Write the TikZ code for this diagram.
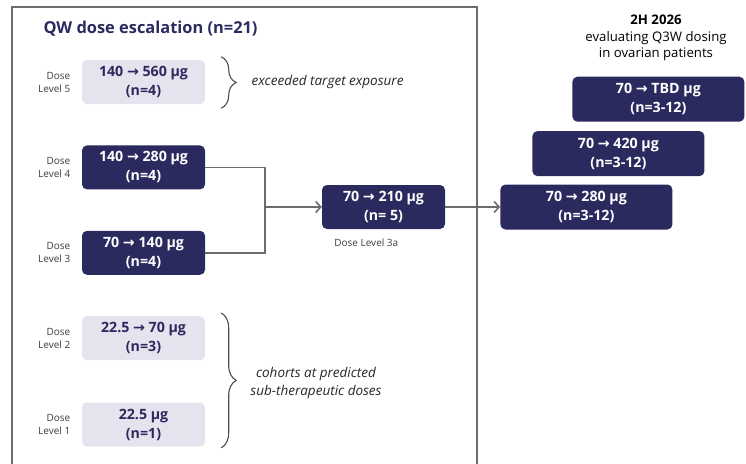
\documentclass[tikz,border=0pt]{standalone}
\usepackage{fontspec}
\setmainfont{Open Sans}
\newfontfamily\arrowfont{DejaVu Sans}
\usepackage{xcolor}
\usepackage{tikz}
\usetikzlibrary{positioning,arrows.meta,decorations.pathreplacing}

\definecolor{navy}{RGB}{43,42,94}
\definecolor{lilac}{RGB}{230,226,238}
\definecolor{framegray}{RGB}{108,108,108}
\definecolor{labelgray}{RGB}{60,60,60}
\newcommand{\doseto}{{\arrowfont\bfseries →}}

\begin{document}
\begin{tikzpicture}[x=1pt,y=-1pt,
    cohort/.style={rectangle, rounded corners=5pt, fill=navy, text=white, minimum width=123pt, minimum height=44pt, inner sep=0pt, font=\fontsize{14.2}{19}\selectfont\bfseries},
    lowcohort/.style={cohort, fill=lilac, text=navy},
    q3w/.style={cohort, minimum width=172pt, minimum height=45pt},
    lbl/.style={font=\fontsize{10}{13}\selectfont, text=labelgray, align=right},
    note/.style={font=\fontsize{13.5}{17.5}\selectfont\itshape, text=black!85},
    conn/.style={draw=framegray, line width=1.6pt},
    brc/.style={decorate, decoration={brace,amplitude=15pt}, draw=black!70, line width=1.1pt},
    every node/.style={align=center}
]
\useasboundingbox (0,0) rectangle (746,463);

% Frame round the QW part
\draw[framegray, line width=1.6pt] (12,475) |- (477,7) -- (477,475);
\node[font=\fontsize{16.4}{20}\selectfont\bfseries, text=navy, anchor=west] (title) at (40,29) {QW dose escalation (n=21)};

% Dose levels
\node[lowcohort] (lvl5) at (143.5,82) {140 \doseto{} 560 µg\\(n=4)};
\node[cohort] (lvl4) [below=41pt of lvl5] {140 \doseto{} 280 µg\\(n=4)};
\node[cohort] (lvl3) [below=41pt of lvl4] {70 \doseto{} 140 µg\\(n=4)};
\node[lowcohort] (lvl2) [below=41pt of lvl3] {22.5 \doseto{} 70 µg\\(n=3)};
\node[lowcohort] (lvl1) [below=42pt of lvl2] {22.5 µg\\(n=1)};

\node[lbl] (lbl5) [left=8pt of lvl5] {Dose\\Level 5};
\node[lbl] (lbl4) [left=8pt of lvl4] {Dose\\Level 4};
\node[lbl] (lbl3) [left=8pt of lvl3] {Dose\\Level 3};
\node[lbl] (lbl2) [left=8pt of lvl2] {Dose\\Level 2};
\node[lbl] (lbl1) [left=8pt of lvl1] {Dose\\Level 1};

% Level 3a
\node[cohort] (lvl3a) at (383.5,207) {70 \doseto{} 210 µg\\(n= 5)};
\node[lbl, anchor=north west] (lbl3a) at ([xshift=9pt,yshift=-6pt]lvl3a.south west) {Dose Level 3a};

% Q3W cohorts
\node[q3w] (q280) [right=55pt of lvl3a] {70 \doseto{} 280 µg\\(n=3-12)};
\node[q3w] (q420) [above=8pt of q280, xshift=32pt] {70 \doseto{} 420 µg\\(n=3-12)};
\node[q3w] (qtbd) [above=9pt of q420, xshift=40pt] {70 \doseto{} TBD µg\\(n=3-12)};
\node[font=\fontsize{13.2}{16.5}\selectfont] (plan) at (656,38) {\textbf{2H 2026}\\evaluating Q3W dosing\\in ovarian patients};

% Connectors
\coordinate (join) at (265,207);
\draw[conn] (lvl4.east) -| (join);
\draw[conn] (lvl3.east) -| (join);
\draw[conn,-{Straight Barb[length=5pt,width=11pt]}] (join) -- (lvl3a.west);
\draw[conn,-{Straight Barb[length=5pt,width=11pt]}] (lvl3a.east) -- (q280.west);

% Braces and notes
\draw[brc] ([xshift=16pt,yshift=3pt]lvl5.north east) -- ([xshift=16pt,yshift=-4pt]lvl5.south east);
\node[note, anchor=west] (exceed) at (248,82) {exceeded target exposure};
\draw[brc] ([xshift=16pt,yshift=3pt]lvl2.north east) -- ([xshift=16pt,yshift=-1pt]lvl1.south east);
\node[note] (subther) at (316,383) {cohorts at predicted\\sub-therapeutic doses};

\end{tikzpicture}
\end{document}
